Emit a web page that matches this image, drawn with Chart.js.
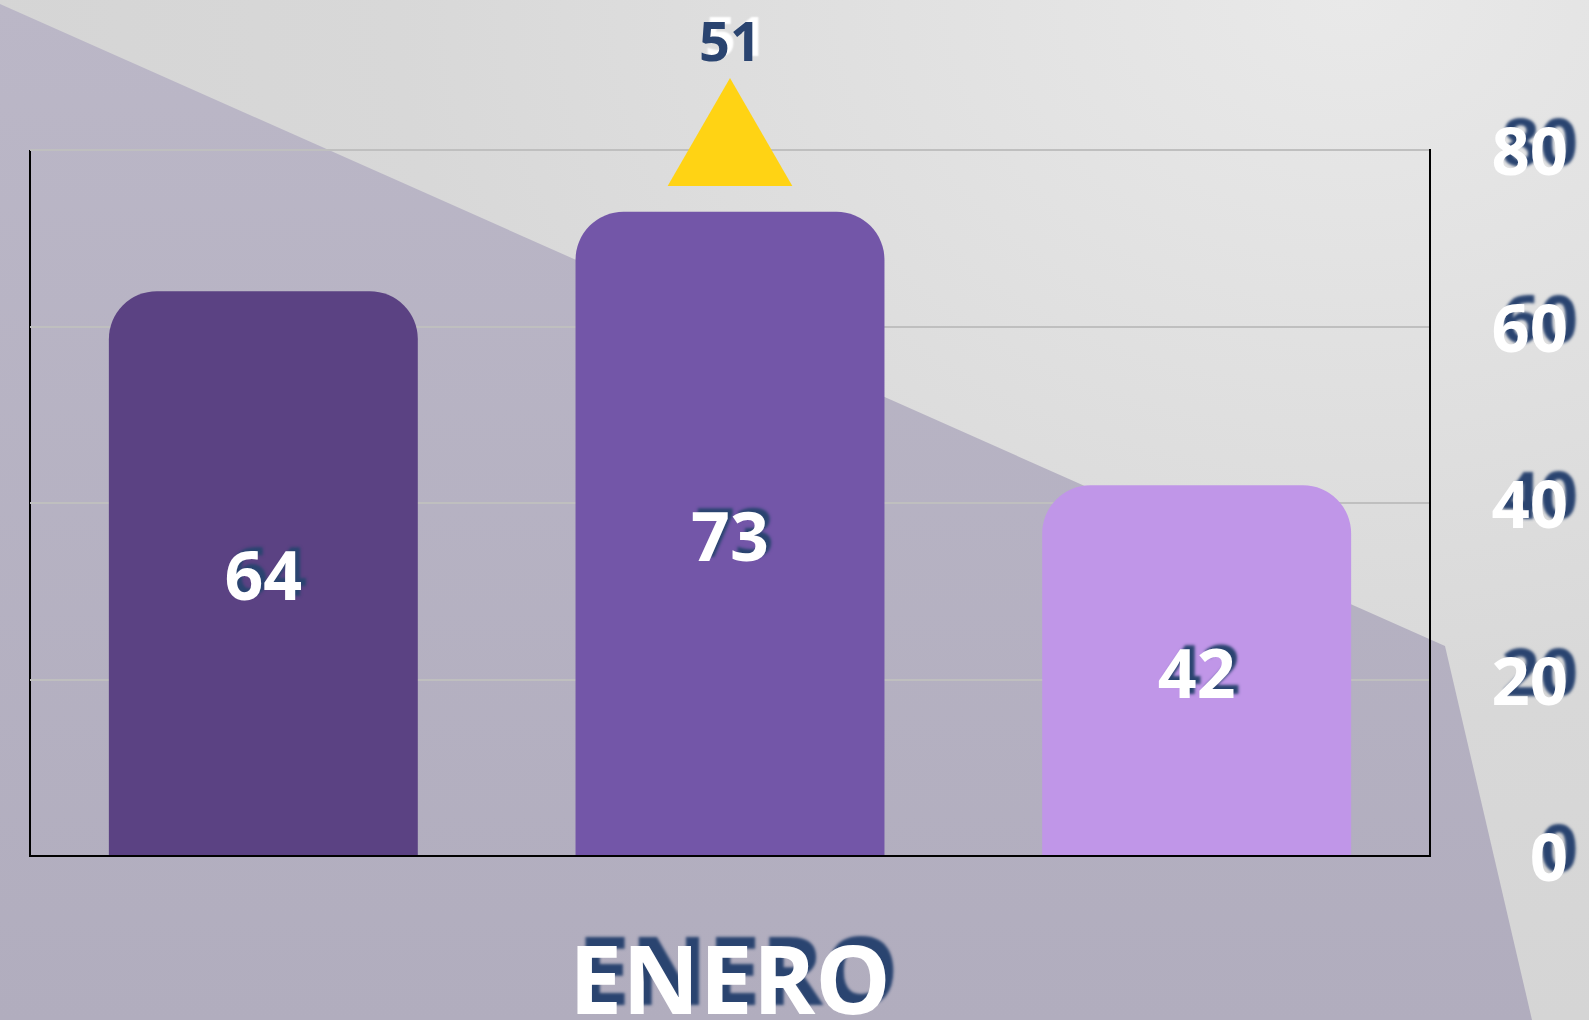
<!DOCTYPE html>
<html>
<head>
<meta charset="utf-8">
<script src="https://cdn.jsdelivr.net/npm/chart.js@4.4.0/dist/chart.umd.min.js"></script>
<style>
  html, body { margin: 0; padding: 0; }
  body {
    width: 1589px; height: 1020px; position: relative; overflow: hidden;
    background: radial-gradient(ellipse at 85% 0%, #e9e9e9 0%, #d8d8d8 50%, #d1d1d1 100%);
  }
  .band {
    position: absolute; left: 0; top: 0; width: 1589px; height: 1020px;
    background: linear-gradient(180deg, #bbb7c7 0%, #b1adbe 100%);
    clip-path: polygon(0px 4px, 1445px 646px, 1532px 1020px, 0px 1020px);
  }
  #wrap { position: absolute; left: 0; top: 0; width: 1589px; height: 1020px; }
</style>
</head>
<body>
<div class="band"></div>
<div id="wrap"><canvas id="grafico" width="1589" height="1020"></canvas></div>
<script>
// datos
const categorias = ['ENERO'];
const serie1 = [64];
const serie2 = [73];
const serie3 = [42];
const indicador = [51];
const yTicks = [0, 20, 40, 60, 80];

const yMax = yTicks[yTicks.length - 1];
const navy = '#2a4470';
const FUENTE = "'Open Sans', 'Noto Sans', sans-serif";

// sombra azul en las etiquetas de los ejes (sin recorte para que la sombra no se corte)
const sombraEjes = {
  id: 'sombraEjes',
  beforeDraw(chart) {
    const offsets = { x: [8, -9], y: [10, -9] };
    Object.keys(offsets).forEach((id) => {
      const s = chart.scales[id];
      if (!s || s._conSombra) return;
      const original = s.drawLabels.bind(s);
      const [dx, dy] = offsets[id];
      s._computeLabelArea = () => undefined;
      s.drawLabels = function (area) {
        const ctx = this.ctx;
        ctx.save();
        ctx.shadowColor = navy;
        ctx.shadowOffsetX = dx;
        ctx.shadowOffsetY = dy;
        ctx.shadowBlur = 3;
        original(area);
        ctx.restore();
      };
      s._conSombra = true;
    });
  }
};

// valores dentro de las barras y sobre el triangulo
const etiquetas = {
  id: 'etiquetas',
  afterDatasetsDraw(chart) {
    const ctx = chart.ctx;
    chart.data.datasets.forEach((ds, i) => {
      const meta = chart.getDatasetMeta(i);
      meta.data.forEach((el, j) => {
        ctx.save();
        ctx.textAlign = 'center';
        ctx.textBaseline = 'middle';
        if (meta.type === 'bar') {
          ctx.font = `bold 68px ${FUENTE}`;
          ctx.fillStyle = '#ffffff';
          ctx.shadowColor = navy;
          ctx.shadowOffsetX = 5;
          ctx.shadowOffsetY = -4;
          ctx.shadowBlur = 3;
          ctx.fillText(ds.data[j], el.x, (el.y + el.base) / 2 + 8);
        } else {
          ctx.font = `bold 54px ${FUENTE}`;
          ctx.fillStyle = navy;
          ctx.shadowColor = '#ffffff';
          ctx.shadowOffsetX = 6;
          ctx.shadowOffsetY = -5;
          ctx.shadowBlur = 2;
          ctx.fillText(ds.valores[j], el.x, el.y - el.options.radius - 32);
        }
        ctx.restore();
      });
    });
  }
};

const radio = { topLeft: 48, topRight: 48, bottomLeft: 0, bottomRight: 0 };

new Chart(document.getElementById('grafico'), {
  type: 'bar',
  data: {
    labels: categorias,
    datasets: [
      {
        type: 'line',
        label: 'Indicador',
        data: categorias.map(() => yMax),
        valores: indicador,
        showLine: false,
        pointStyle: 'triangle',
        pointRadius: 72,
        pointHoverRadius: 72,
        pointBackgroundColor: '#ffd314',
        pointBorderWidth: 0,
        clip: false
      },
      { label: 'Serie 1', data: serie1, backgroundColor: '#5b4283', borderRadius: radio, borderSkipped: 'bottom' },
      { label: 'Serie 2', data: serie2, backgroundColor: '#7356a8', borderRadius: radio, borderSkipped: 'bottom' },
      { label: 'Serie 3', data: serie3, backgroundColor: '#c096e8', borderRadius: radio, borderSkipped: 'bottom' }
    ]
  },
  options: {
    responsive: false,
    devicePixelRatio: 1,
    animation: false,
    categoryPercentage: 1.0,
    barPercentage: 0.662,
    layout: { autoPadding: false, padding: { left: 30, top: 150, right: 21, bottom: 0 } },
    plugins: { legend: { display: false }, tooltip: { enabled: false } },
    scales: {
      x: {
        grid: { color: '#000000', lineWidth: 2, drawTicks: false },
        border: { color: '#000000', width: 2 },
        ticks: {
          color: '#ffffff',
          font: { family: FUENTE, size: 95, weight: 'bold' },
          padding: 74,
          maxRotation: 0
        },
        afterFit(s) { s.height = 164; }
      },
      y: {
        position: 'right',
        min: 0,
        max: yMax,
        afterBuildTicks(s) { s.ticks = yTicks.map((v) => ({ value: v })); },
        grid: { color: '#bfbfbf', lineWidth: 2, drawTicks: false },
        border: { color: '#000000', width: 2 },
        ticks: {
          color: '#ffffff',
          crossAlign: 'far',
          labelOffset: 6,
          font: { family: FUENTE, size: 67, weight: 'bold' }
        },
        afterFit(s) { s.width = 138; }
      }
    }
  },
  plugins: [sombraEjes, etiquetas]
});
</script>
</body>
</html>
